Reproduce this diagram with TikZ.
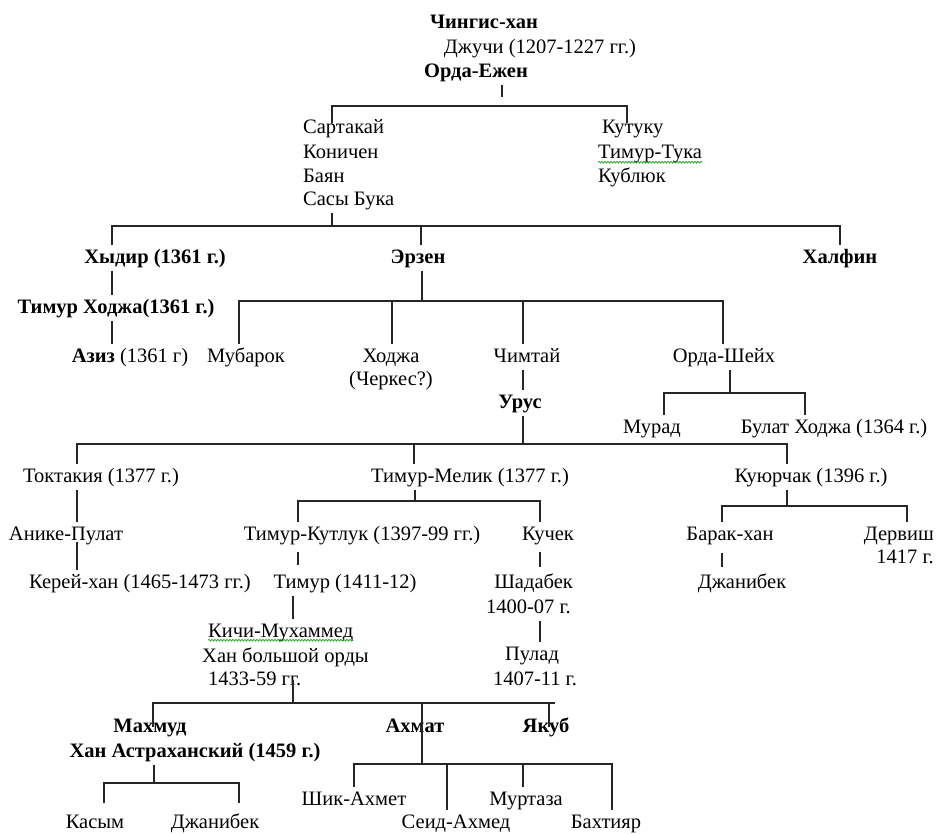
\documentclass[tikz,border=0pt]{standalone}
\usepackage{fontspec}
\setmainfont{Liberation Serif}
\usetikzlibrary{decorations.pathmorphing}

\begin{document}
\begin{tikzpicture}[x=1pt,y=-1pt,
    person/.style={font=\fontsize{20.5}{24.5}\selectfont,inner xsep=0pt,inner ysep=4.2pt,
      text height=13.6pt,text depth=3pt},
    khan/.style={person,font=\fontsize{20.5}{24.5}\selectfont\bfseries},
    link/.style={black!85,line width=1.3pt},
    spell/.style={green!60!black,line width=0.6pt,decorate,
      decoration={snake,amplitude=0.9pt,segment length=3pt}}]
  \useasboundingbox (0,0) rectangle (936,834);

  % top of the tree
  \node[khan] (chingis) at (484,23) {Чингис-хан};
  \node[person] (dzhuchi) at (540,48) {Джучи (1207-1227 гг.)};
  \node[khan] (ordaezhen) at (476,72) {Орда-Ежен};

  \node[person,anchor=west] (sartakai) at (303,128) {Сартакай};
  \node[person,anchor=west] (konichen) at (303,153) {Коничен};
  \node[person,anchor=west] (bayan) at (303,177) {Баян};
  \node[person,anchor=west] (sasybuka) at (303,200) {Сасы Бука};
  \node[person,anchor=west] (kutuku) at (602,128) {Кутуку};
  \node[person,anchor=west] (timurtuka) at (598,153) {Тимур-Тука};
  \node[person,anchor=west] (kublyuk) at (598,177) {Кублюк};

  \node[khan] (hydir) at (155,258) {Хыдир (1361 г.)};
  \node[khan] (erzen) at (418,258) {Эрзен};
  \node[khan] (halfin) at (840,258) {Халфин};
  \node[khan] (timurkhodzha) at (116,308) {Тимур Ходжа(1361 г.)};
  \node[person] (aziz) at (130,357) {\textbf{Азиз} (1361 г)};

  \node[person] (mubarok) at (246,357) {Мубарок};
  \node[person] (khodzha) at (391,357) {Ходжа};
  \node[person] (cherkes) at (391,380) {(Черкес?)};
  \node[person] (chimtai) at (527,357) {Чимтай};
  \node[person] (ordasheikh) at (724,357) {Орда-Шейх};
  \node[khan] (urus) at (520,403) {Урус};
  \node[person] (murad) at (652,428) {Мурад};
  \node[person] (bulat) at (834,428) {Булат Ходжа (1364 г.)};

  % sons of Урус
  \node[person] (toktakiya) at (101,477) {Токтакия (1377 г.)};
  \node[person] (timurmelik) at (470,477) {Тимур-Мелик (1377 г.)};
  \node[person] (kuyurchak) at (811,477) {Куюрчак (1396 г.)};
  \node[person] (anike) at (66,535) {Анике-Пулат};
  \node[person] (kerei) at (140,583) {Керей-хан (1465-1473 гг.)};
  \node[person] (timurkutluk) at (362,535) {Тимур-Кутлук (1397-99 гг.)};
  \node[person] (timur) at (345,583) {Тимур (1411-12)};
  \node[person] (kuchek) at (548,535) {Кучек};
  \node[person,anchor=east] (shadabek) at (573,583) {Шадабек};
  \node[person,anchor=east] (god1400) at (571,608) {1400-07 г.};
  \node[person] (pulad) at (532,655) {Пулад};
  \node[person] (god1407) at (535,680) {1407-11 г.};
  \node[person] (barak) at (730,535) {Барак-хан};
  \node[person] (dzhanibeka) at (742,583) {Джанибек};
  \node[person,anchor=east] (dervish) at (934,535) {Дервиш};
  \node[person,anchor=east] (god1417) at (934,558) {1417 г.};

  \node[person,anchor=west] (kichi) at (208,632) {Кичи-Мухаммед};
  \node[person,anchor=west] (hanbol) at (202,657) {Хан большой орды};
  \node[person,anchor=west] (god1433) at (208,680) {1433-59 гг.};

  \node[khan] (mahmud) at (150,727) {Махмуд};
  \node[khan] (astrahan) at (195,752) {Хан Астраханский (1459 г.)};
  \node[khan] (ahmat) at (415,727) {Ахмат};
  \node[khan] (yakub) at (546,727) {Якуб};
  \node[person] (kasym) at (95,823) {Касым};
  \node[person] (dzhanibekb) at (215,823) {Джанибек};
  \node[person] (shikahmet) at (354,800) {Шик-Ахмет};
  \node[person] (seidahmed) at (456,823) {Сеид-Ахмед};
  \node[person] (murtaza) at (526,800) {Муртаза};
  \node[person] (bahtiyar) at (606,823) {Бахтияр};

  \draw[spell] ([yshift=3.5pt]timurtuka.south west) -- ([yshift=3.5pt]timurtuka.south east);
  \draw[spell] ([yshift=4.5pt]kichi.south west) -- ([yshift=4.5pt]kichi.south east);

  % connectors
  \draw[link] (ordaezhen.south -| 502,0) -- ++(0,12);
  \draw[link] (332,123) |- (627,106) -- (627,123);
  \draw[link] (sasybuka.south -| 332,0) -- (332,226);
  \draw[link] (hydir.north -| 112,0) |- (840,226) -- (halfin.north);
  \draw[link] (erzen.north -| 421,0) -- (421,226);
  \draw[link] (hydir.south -| 112,0) -- (timurkhodzha.north -| 112,0);
  \draw[link] (timurkhodzha.south -| 112,0) -- (aziz.north -| 112,0);

  \draw[link] (erzen.south -| 422,0) -- (422,301);
  \draw[link] (mubarok.north -| 239,0) |- (723,301) -- (ordasheikh.north -| 723,0);
  \draw[link] (khodzha.north -| 392,0) -- (392,301);
  \draw[link] (chimtai.north -| 523,0) -- (523,301);
  \draw[link] (chimtai.south -| 523,0) -- (urus.north -| 523,0);
  \draw[link] (ordasheikh.south -| 730,0) -- (730,393);
  \draw[link] (murad.north -| 664,0) |- (805,393) -- (bulat.north -| 805,0);

  \draw[link] (urus.south -| 523,0) -- (523,444);
  \draw[link] (toktakiya.north -| 77,0) |- (787,444) -- (kuyurchak.north -| 787,0);
  \draw[link] (timurmelik.north -| 414,0) -- (414,444);
  \draw[link] (toktakiya.south -| 77,0) -- (anike.north -| 77,0);
  \draw[link] (77,542) -- (kerei.north -| 77,0);

  \draw[link] (timurmelik.south -| 415,0) -- (415,501);
  \draw[link] (timurkutluk.north -| 298,0) |- (540,501) -- (kuchek.north -| 540,0);
  \draw[link,shorten <=4pt,shorten >=5pt] (timurkutluk.south -| 298,0) -- (timur.north -| 298,0);
  \draw[link] (timur.south -| 293,0) -- (kichi.north -| 293,0);
  \draw[link,shorten <=4pt,shorten >=3pt] (kuchek.south -| 540,0) -- (shadabek.north -| 540,0);
  \draw[link] (god1400.south -| 540,0) -- (pulad.north -| 540,0);

  \draw[link] (kuyurchak.south -| 787,0) -- (787,506);
  \draw[link] (barak.north -| 722,0) |- (907,506) -- (dervish.north -| 907,0);
  \draw[link,shorten <=5pt,shorten >=3pt] (barak.south -| 722,0) -- (dzhanibeka.north -| 722,0);

  \draw[link] (god1433.center -| 293,0) -- (293,703);
  \draw[link] (mahmud.center -| 153,0) |- (555,703);
  \draw[link] (422,703) -- (422,764);
  \draw[link] (549,703) -- (yakub.center -| 549,0);

  \draw[link] (astrahan.south -| 154,0) -- (154,783);
  \draw[link] (104,803) |- (239,783) -- (239,803);
  \draw[link] (shikahmet.north -| 354,0) |- (612,764) -- (bahtiyar.north -| 612,0);
  \draw[link] (447,764) -- (seidahmed.north -| 447,0);
  \draw[link] (523,764) -- (murtaza.north -| 523,0);
\end{tikzpicture}
\end{document}
